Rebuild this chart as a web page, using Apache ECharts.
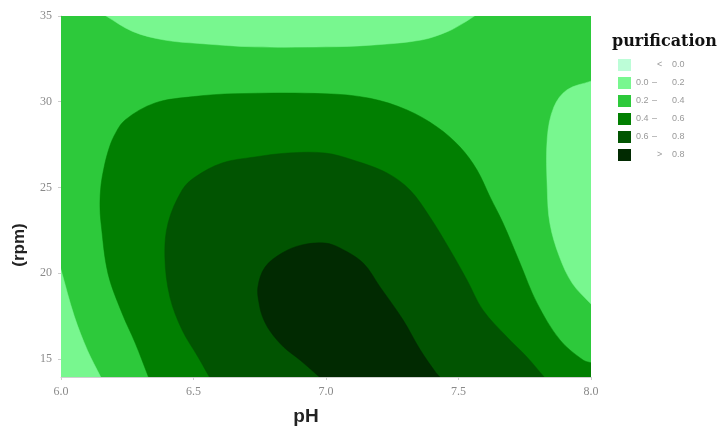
<!DOCTYPE html>
<html><head><meta charset="utf-8">
<script src="https://cdn.jsdelivr.net/npm/echarts@6/dist/echarts.min.js"></script>
<style>html,body{margin:0;padding:0;background:#fff}#c{width:722px;height:432px}</style>
</head><body><div id="c"></div><script>
// Axis ticks
const phTicks = [6.0, 6.5, 7.0, 7.5, 8.0];
const rpmTicks = [15, 20, 25, 30, 35];
const phRange = [6.0, 8.0];
const rpmRange = [13.95, 35];
// Legend levels
const levelLabels = ['< 0.0', '0.0 – 0.2', '0.2 – 0.4', '0.4 – 0.6', '0.6 – 0.8', '> 0.8'];
// Contour regions, [pH, rpm]
const band02to04 = [[6, 13.95], [8, 13.95], [8, 35], [6, 35]];
const band00to02Top = [[6.17, 35], [6.27, 34.1], [6.39, 33.6], [6.52, 33.4], [6.73, 33.2], [7.0, 33.2], [7.17, 33.3], [7.36, 33.6], [7.46, 34.1], [7.52, 34.6], [7.56, 35]];
const band00to02Right = [[8, 31.2], [7.91, 30.7], [7.86, 29.7], [7.835, 27.9], [7.835, 24.9], [7.845, 22.9], [7.88, 21.0], [7.93, 19.4], [8, 18.2]];
const band00to02Left = [[6, 20.2], [6.05, 17.5], [6.10, 15.5], [6.15, 13.95], [6, 13.95]];
const band04to06Main = [[6.33, 13.95], [6.28, 15.93], [6.23, 17.68], [6.177, 20.0], [6.151, 22.93], [6.147, 24.0], [6.151, 25.15], [6.162, 26.14], [6.177, 27.07], [6.2, 28.0], [6.242, 28.94], [6.355, 29.93], [6.5, 30.3], [6.657, 30.47], [6.996, 30.47], [7.166, 30.2], [7.306, 29.52], [7.419, 28.53], [7.506, 27.36], [7.57, 26.02], [7.619, 24.45], [7.668, 22.93], [7.732, 20.6], [7.796, 18.27], [7.883, 16.11], [7.97, 14.94], [8, 14.78], [8, 13.95]];
const band04to06Corner = [[7.93, 35], [8, 35], [8, 34.48]];
const band06to08 = [[6.56, 13.95], [6.517, 15.12], [6.457, 16.69], [6.411, 18.61], [6.392, 20.95], [6.404, 22.93], [6.457, 24.85], [6.506, 25.61], [6.608, 26.43], [6.732, 26.78], [6.857, 27.01], [6.996, 27.01], [7.102, 26.6], [7.23, 25.85], [7.317, 24.85], [7.392, 23.28], [7.468, 21.36], [7.532, 19.61], [7.592, 17.86], [7.683, 16.28], [7.758, 15.12], [7.823, 13.95]];
const bandAbove08 = [[6.975, 13.95], [6.905, 14.9], [6.84, 15.7], [6.79, 16.6], [6.762, 17.4], [6.748, 18.2], [6.743, 19.2], [6.77, 20.36], [6.834, 21.18], [6.909, 21.65], [6.996, 21.76], [7.053, 21.47], [7.14, 20.6], [7.204, 19.2], [7.29, 17.3], [7.355, 15.55], [7.415, 14.2], [7.43, 13.95]];

const colors = ['#bcfdd7', '#78f78f', '#2dc93b', '#017f01', '#015401', '#012a01'];

// Vertices lying on the plot border are continued a little outside along the contour
// direction, so smoothing keeps the visible curve intact; the result is clipped to the plot.
function pushOut(pts, cs) {
  const L = cs.x, R = cs.x + cs.width, T = cs.y, B = cs.y + cs.height, e = 0.8, off = 12;
  const edgeN = p => {
    const n = [0, 0];
    if (Math.abs(p[0] - L) < e) n[0] = -1; else if (Math.abs(p[0] - R) < e) n[0] = 1;
    if (Math.abs(p[1] - T) < e) n[1] = -1; else if (Math.abs(p[1] - B) < e) n[1] = 1;
    return n;
  };
  const isIn = n => !n[0] && !n[1];
  const N = pts.length;
  const out = [];
  pts.forEach((p, i) => {
    const n = edgeN(p);
    if (isIn(n)) { out.push(p); return; }
    if (n[0] && n[1]) { out.push([p[0] + n[0] * off * 2, p[1] + n[1] * off * 2]); return; }
    const prev = pts[(i - 1 + N) % N], next = pts[(i + 1) % N];
    let inner = null, innerIsPrev = false;
    if (isIn(edgeN(prev))) { inner = prev; innerIsPrev = true; }
    else if (isIn(edgeN(next))) { inner = next; }
    if (inner) {
      const d = [p[0] - inner[0], p[1] - inner[1]];
      const dn = d[0] * n[0] + d[1] * n[1];
      if (dn > 0.5) {
        const t = off / dn;
        const p1 = [p[0] + d[0] * t, p[1] + d[1] * t];
        const p2 = [p[0] + d[0] * t * 2, p[1] + d[1] * t * 2];
        if (innerIsPrev) { out.push(p, p1, p2); } else { out.push(p2, p1, p); }
        return;
      }
    }
    out.push([p[0] + n[0] * off * 2, p[1] + n[1] * off * 2]);
  });
  return out;
}

function regionSeries(name, color, poly, smooth) {
  return {
    type: 'custom', name: name, data: poly, encode: {x: 0, y: 1},
    itemStyle: {color: color}, silent: true,
    renderItem: function (params, api) {
      if (params.dataIndex !== 0) return null;
      const cs = params.coordSys;
      let pts = poly.map(p => api.coord(p));
      if (smooth) pts = pushOut(pts, cs);
      return {
        type: 'group',
        clipPath: {type: 'rect', shape: {x: cs.x, y: cs.y, width: cs.width, height: cs.height}},
        children: [{type: 'polygon', shape: {points: pts, smooth: smooth}, style: {fill: color, stroke: color, lineWidth: 0.5}}]
      };
    }
  };
}

const series = [
  {type: 'custom', name: levelLabels[0], data: [], itemStyle: {color: colors[0]}, renderItem: () => null},
  regionSeries(levelLabels[2], colors[2], band02to04, 0),
  regionSeries(levelLabels[1], colors[1], band00to02Top, 0.35),
  regionSeries(levelLabels[1], colors[1], band00to02Right, 0.35),
  regionSeries(levelLabels[1], colors[1], band00to02Left, 0.35),
  regionSeries(levelLabels[3], colors[3], band04to06Main, 0.35),
  regionSeries(levelLabels[3], colors[3], band04to06Corner, 0.2),
  regionSeries(levelLabels[4], colors[4], band06to08, 0.35),
  regionSeries(levelLabels[5], colors[5], bandAbove08, 0.35)
];

const chart = echarts.init(document.getElementById('c'));
chart.setOption({
  animation: false,
  backgroundColor: '#fff',
  title: {
    text: 'purification', left: 607, top: 29,
    textStyle: {fontFamily: 'DejaVu Serif', fontWeight: 'bold', fontSize: 16, color: '#111'}
  },
  legend: {
    orient: 'vertical', left: 613, top: 54, itemWidth: 13, itemHeight: 12, itemGap: 6,
    icon: 'rect', selectedMode: false,
    data: levelLabels,
    formatter: function (name) {
      if (name[0] === '<' || name[0] === '>') return '{e|}{s|' + name[0] + '}{h|' + name.slice(2) + '}';
      const parts = name.split(' – ');
      return '{l|' + parts[0] + '}{d|–}{h|' + parts[1] + '}';
    },
    textStyle: {
      color: '#999', fontSize: 9, fontFamily: 'Liberation Sans',
      rich: {
        e: {width: 21}, s: {width: 15, color: '#999', fontSize: 9},
        l: {width: 16, color: '#999', fontSize: 9}, d: {width: 20, color: '#999', fontSize: 9},
        h: {color: '#999', fontSize: 9}
      }
    }
  },
  grid: {left: 61, right: 131, top: 16, bottom: 55},
  xAxis: {
    type: 'value', min: phRange[0], max: phRange[1], interval: 0.5,
    name: 'pH', nameLocation: 'middle', nameGap: 30,
    nameTextStyle: {fontFamily: 'Liberation Sans', fontWeight: 'bold', fontSize: 19, color: '#222', padding: [0, 40, 0, 0]},
    axisLine: {show: true, lineStyle: {color: '#d0d0d0'}},
    axisTick: {show: true, length: 3, lineStyle: {color: '#ccc'}},
    splitLine: {show: false},
    axisLabel: {
      customValues: phTicks, formatter: v => v.toFixed(1), margin: 9,
      color: '#8a8a8a', fontSize: 12, fontFamily: 'Liberation Serif'
    }
  },
  yAxis: {
    type: 'value', min: rpmRange[0], max: rpmRange[1],
    name: '(rpm)', nameLocation: 'middle', nameGap: 33, nameRotate: 90,
    nameTextStyle: {fontFamily: 'Liberation Sans', fontWeight: 'bold', fontSize: 17, color: '#222', padding: [0, 97, 0, 0]},
    axisLine: {show: true, lineStyle: {color: '#d0d0d0'}},
    axisTick: {show: true, length: 3, customValues: rpmTicks, lineStyle: {color: '#ccc'}},
    splitLine: {show: false},
    axisLabel: {
      customValues: rpmTicks, margin: 9,
      color: '#8a8a8a', fontSize: 12, fontFamily: 'Liberation Serif'
    }
  },
  series: series
});
</script></body></html>
